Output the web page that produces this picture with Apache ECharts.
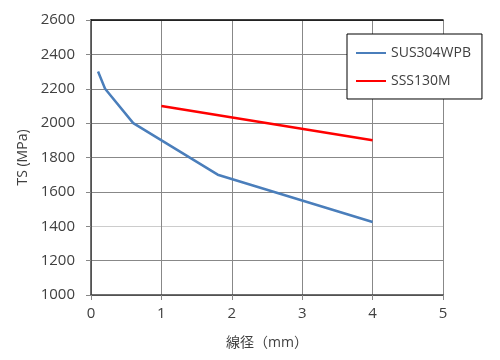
<!DOCTYPE html>
<html><head><meta charset="utf-8">
<script src="https://cdn.jsdelivr.net/npm/echarts@6/dist/echarts.min.js"></script>
<style>html,body{margin:0;padding:0;background:#fff}#c{width:500px;height:360px}</style>
</head><body><div id="c"></div>
<script>
const susX = [0.1, 0.2, 0.6, 1.8, 4];
const susY = [2300, 2200, 2000, 1700, 1425];
const sssX = [1, 4];
const sssY = [2100, 1900];
const seriesNames = ['SUS304WPB', 'SSS130M'];
const xTitle = '線径（mm）';
const yTitle = 'TS (MPa)';

const font = '"Open Sans", "Noto Sans CJK JP", sans-serif';
const chart = echarts.init(document.getElementById('c'));
chart.setOption({
  animation: false,
  grid: {left: 91, right: 57, top: 20, bottom: 65},
  legend: {
    orient: 'vertical', left: 347, top: 34,
    padding: [12, 11, 11, 9], itemGap: 14, itemWidth: 30, itemHeight: 14,
    borderColor: '#000', borderWidth: 1, backgroundColor: '#fff',
    textStyle: {fontFamily: font, fontSize: 14, color: '#404040'},
    data: seriesNames.map(n => ({name: n, icon: 'path://M0,6H30V8H0Z'}))
  },
  xAxis: [{
    type: 'value', min: 0, max: 5, interval: 1,
    name: xTitle, nameLocation: 'middle', nameGap: 41,
    nameTextStyle: {fontFamily: font, fontSize: 14, color: '#404040'},
    axisLine: {lineStyle: {color: '#404040', width: 1.5}},
    axisTick: {show: true, length: 5, lineStyle: {color: '#888'}},
    axisLabel: {fontFamily: font, fontSize: 15, color: '#404040', margin: 11},
    splitLine: {show: true, lineStyle: {color: '#888', width: 1}}
  }, {
    type: 'value', min: 0, max: 5, position: 'top',
    axisLine: {show: true, lineStyle: {color: '#000', width: 1.5}},
    axisTick: {show: false}, axisLabel: {show: false}, splitLine: {show: false}
  }],
  yAxis: {
    type: 'value', min: 1000, max: 2600, interval: 200,
    name: yTitle, nameLocation: 'middle', nameGap: 51,
    nameTextStyle: {fontFamily: font, fontSize: 14, color: '#404040'},
    axisLine: {show: true, lineStyle: {color: '#404040', width: 1.5}},
    axisTick: {show: true, length: 5, lineStyle: {color: '#888'}},
    axisLabel: {fontFamily: font, fontSize: 15, color: '#404040', margin: 16, formatter: v => String(v)},
    splitLine: {show: true, lineStyle: {color: ['#888','#888','#ccc','#888','#888','#888','#888','#888','#888'], width: 1}}
  },
  series: [{
    name: seriesNames[0], type: 'line', symbol: 'none',
    data: susX.map((x, i) => [x, susY[i]]),
    lineStyle: {color: '#4a7ebb', width: 2.5}, itemStyle: {color: '#4a7ebb'}
  }, {
    name: seriesNames[1], type: 'line', symbol: 'none',
    data: sssX.map((x, i) => [x, sssY[i]]),
    lineStyle: {color: '#ff0000', width: 2.5}, itemStyle: {color: '#ff0000'}
  }]
});
</script></body></html>
